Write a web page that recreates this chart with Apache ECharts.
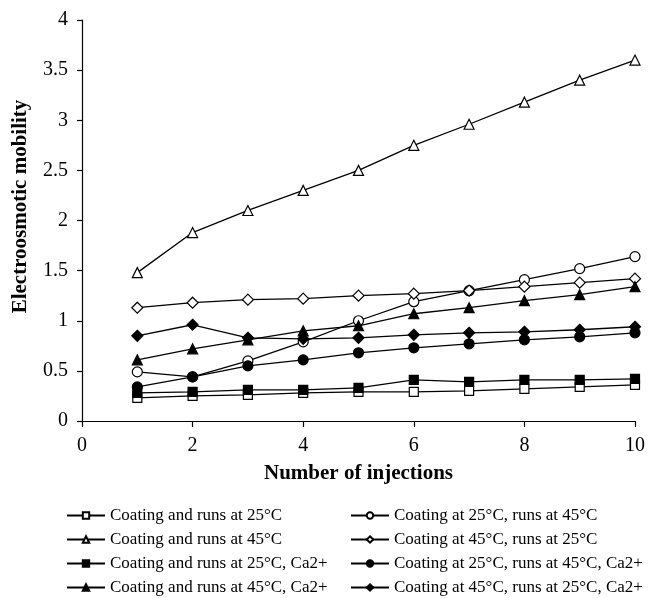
<!DOCTYPE html>
<html>
<head>
<meta charset="utf-8">
<script src="https://cdn.jsdelivr.net/npm/echarts@6/dist/echarts.min.js"></script>
<style>
html, body { margin: 0; padding: 0; background: #fff; }
#chart { width: 648px; height: 598px; }
</style>
</head>
<body>
<div id="chart"></div>
<script>
const injections = [1, 2, 3, 4, 5, 6, 7, 8, 9, 10];
const xTicks = [0, 2, 4, 6, 8, 10];
const yTicks = [0, 0.5, 1, 1.5, 2, 2.5, 3, 3.5, 4];

const runs25 = [0.23, 0.25, 0.26, 0.28, 0.29, 0.29, 0.30, 0.32, 0.34, 0.36];
const runs45 = [1.48, 1.88, 2.10, 2.30, 2.50, 2.75, 2.96, 3.18, 3.40, 3.60];
const runs25Ca = [0.28, 0.29, 0.31, 0.31, 0.33, 0.41, 0.39, 0.41, 0.41, 0.42];
const runs45Ca = [0.61, 0.72, 0.81, 0.90, 0.95, 1.07, 1.13, 1.20, 1.26, 1.34];
const coat25run45 = [0.49, 0.44, 0.60, 0.79, 1.00, 1.19, 1.30, 1.41, 1.52, 1.64];
const coat45run25 = [1.13, 1.18, 1.21, 1.22, 1.25, 1.27, 1.30, 1.34, 1.38, 1.42];
const coat25run45Ca = [0.34, 0.44, 0.55, 0.61, 0.68, 0.73, 0.77, 0.81, 0.84, 0.88];
const coat45run25Ca = [0.85, 0.96, 0.83, 0.82, 0.83, 0.86, 0.88, 0.89, 0.91, 0.94];

const font = "Liberation Serif";

// name, values, symbol, filled
const seriesDefs = [
    ["Coating and runs at 25\u00B0C", runs25, "rect", false],
    ["Coating at 25\u00B0C, runs at 45\u00B0C", coat25run45, "circle", false],
    ["Coating and runs at 45\u00B0C", runs45, "triangle", false],
    ["Coating at 45\u00B0C, runs at 25\u00B0C", coat45run25, "diamond", false],
    ["Coating and runs at 25\u00B0C, Ca2+", runs25Ca, "rect", true],
    ["Coating at 25\u00B0C, runs at 45\u00B0C, Ca2+", coat25run45Ca, "circle", true],
    ["Coating and runs at 45\u00B0C, Ca2+", runs45Ca, "triangle", true],
    ["Coating at 45\u00B0C, runs at 25\u00B0C, Ca2+", coat45run25Ca, "diamond", true],
];

const symbolSizes = { rect: 9, circle: 10, triangle: 10, diamond: 11 };

const series = seriesDefs.map(([name, vals, sym, filled]) => ({
    name: name,
    type: "line",
    data: injections.map((x, i) => [x, vals[i]]),
    symbol: sym,
    symbolSize: symbolSizes[sym],
    showAllSymbol: true,
    lineStyle: { color: "#000", width: 1.3 },
    itemStyle: { color: filled ? "#000" : "#fff", borderColor: "#000", borderWidth: 1.2 },
    emphasis: { disabled: true },
    animation: false,
}));

const legendBase = {
    orient: "vertical",
    itemWidth: 38,
    itemHeight: 8,
    itemGap: 7,
    padding: 0,
    textStyle: { fontFamily: font, fontSize: 17, lineHeight: 17, color: "#000" },
};

const chart = echarts.init(document.getElementById("chart"));
chart.setOption({
    backgroundColor: "#fff",
    animation: false,
    grid: { left: 82, right: 11, top: 20, bottom: 177 },
    legend: [
        Object.assign({}, legendBase, {
            left: 66, top: 507,
            data: seriesDefs.filter((d, i) => i % 2 === 0).map(d => d[0]),
        }),
        Object.assign({}, legendBase, {
            left: 350, top: 507,
            data: seriesDefs.filter((d, i) => i % 2 === 1).map(d => d[0]),
        }),
    ],
    xAxis: {
        type: "value",
        min: xTicks[0],
        max: xTicks[xTicks.length - 1],
        interval: xTicks[1] - xTicks[0],
        name: "Number of injections",
        nameLocation: "middle",
        nameGap: 42,
        nameTextStyle: { fontFamily: font, fontSize: 21, fontWeight: "bold", color: "#000" },
        axisLine: { lineStyle: { color: "#000", width: 1.2 } },
        axisTick: { show: true, length: 6, lineStyle: { color: "#000", width: 1.2 } },
        axisLabel: { fontFamily: font, fontSize: 20, color: "#000", margin: 15 },
        splitLine: { show: false },
    },
    yAxis: {
        type: "value",
        min: yTicks[0],
        max: yTicks[yTicks.length - 1],
        interval: yTicks[1] - yTicks[0],
        name: "Electroosmotic mobility",
        nameLocation: "middle",
        nameGap: 51,
        nameTextStyle: { fontFamily: font, fontSize: 21, fontWeight: "bold", color: "#000", padding: [0, 0, 0, 28] },
        axisLine: { show: true, lineStyle: { color: "#000", width: 1.2 } },
        axisTick: { show: true, length: 5, lineStyle: { color: "#000", width: 1.2 } },
        axisLabel: { fontFamily: font, fontSize: 20, color: "#000", margin: 14 },
        splitLine: { show: false },
    },
    series: series,
});
</script>
</body>
</html>
